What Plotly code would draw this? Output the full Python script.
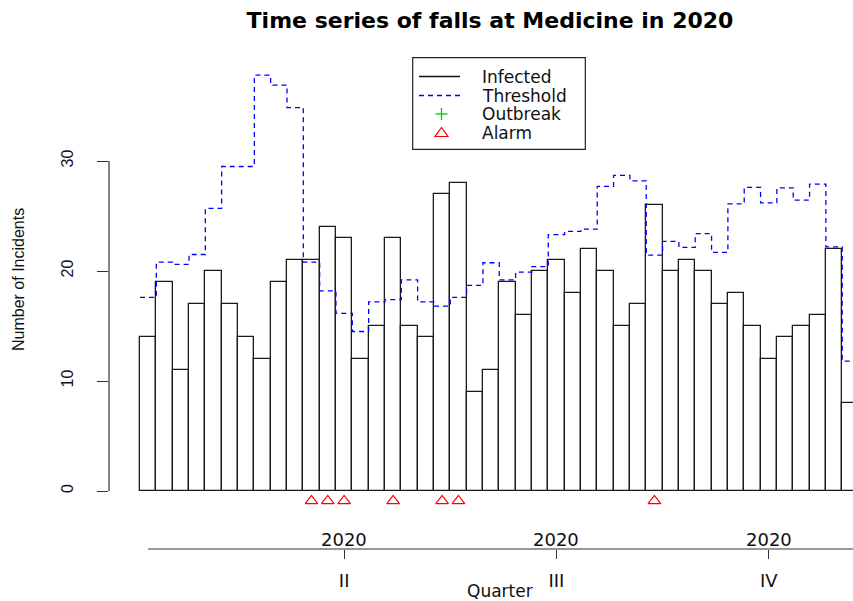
import plotly.graph_objects as go

# ---------------- data ----------------
weeks = list(range(1, 45))
infected = [14, 19, 11, 17, 20, 17, 14, 12, 19, 21,
            21, 24, 23, 12, 15, 23, 15, 14, 27, 28,
            9, 11, 19, 16, 20, 21, 18, 22, 20, 15,
            17, 26, 20, 21, 20, 17, 18, 15, 12, 14,
            15, 16, 22, 8]
threshold = [17.6, 20.8, 20.6, 21.5, 25.7, 29.5, 29.5, 37.8, 36.9, 34.85,
             20.8, 18.2, 16.15, 14.5, 17.2, 17.4, 19.2, 17.2, 16.8, 17.6,
             18.7, 20.75, 19.2, 19.9, 20.4, 23.3, 23.6, 23.8, 27.7, 28.7,
             28.2, 21.45, 22.7, 22.15, 23.4, 21.7, 26.1, 27.6, 26.2, 27.55,
             26.45, 27.9, 22.2, 11.8]
alarm_weeks = [11, 12, 13, 16, 19, 20, 32]
quarter_pos = [13, 26, 39]
quarter_labels = ["II", "III", "IV"]
year_labels = ["2020", "2020", "2020"]
y_ticks = [0, 10, 20, 30]
legend_labels = ["Infected", "Threshold", "Outbreak", "Alarm"]
title_text = "Time series of falls at Medicine in 2020"
YEAR_WEEKS = 52
ALARM_Y = -0.9

# ---------------- geometry ----------------
W, H = 853, 601
L, R, T, B = 109, 0, 60, 52
PW, PH = W - L - R, H - T - B
X_LEFT, X_RIGHT = -1.3986, 44.161
Y_BOT, Y_TOP = -5.273, 39.182


def px(xp):
    return (xp - L) / PW


def py(yp):
    return (H - B - yp) / PH


step_x = [w - 0.5 for w in weeks] + [weeks[-1] + 0.5]
step_y = threshold + [threshold[-1]]

fig = go.Figure()
fig.add_trace(go.Bar(
    x=weeks, y=infected, width=1, name="Infected",
    marker=dict(color="rgba(0,0,0,0)", line=dict(color="#1a1a1a", width=1.3)),
    showlegend=False))
fig.add_trace(go.Scatter(
    x=step_x, y=step_y, mode="lines", name="Threshold",
    line=dict(color="#0000ff", width=1.3, dash="5px,4px", shape="hv"),
    showlegend=False))
fig.add_trace(go.Scatter(
    x=alarm_weeks, y=[ALARM_Y] * len(alarm_weeks), mode="markers", name="Alarm",
    marker=dict(symbol="triangle-up-open", color="red", size=11, line=dict(width=1.2, color="red")),
    cliponaxis=False, showlegend=False))

shapes = []
# y axis line (R style, spanning the ticks only)
shapes.append(dict(type="line", xref="paper", yref="y", x0=0, x1=0, y0=y_ticks[0], y1=y_ticks[-1],
                   line=dict(color="#333", width=1.2)))
# bottom time axis line
shapes.append(dict(type="line", xref="x", yref="paper", x0=weeks[0], x1=YEAR_WEEKS, y0=0, y1=0,
                   line=dict(color="#333", width=1.2)))
# legend box
shapes.append(dict(type="rect", xref="paper", yref="paper", x0=px(412.7), x1=px(585.3),
                   y0=py(57.7), y1=py(149.3), line=dict(color="#222", width=1.2),
                   fillcolor="white", layer="above"))
rows = [76.5, 95.5, 114, 132.5]
shapes.append(dict(type="line", xref="paper", yref="paper", x0=px(419), x1=px(460),
                   y0=py(rows[0]), y1=py(rows[0]), line=dict(color="#111", width=1.3), layer="above"))
shapes.append(dict(type="line", xref="paper", yref="paper", x0=px(419), x1=px(460),
                   y0=py(rows[1]), y1=py(rows[1]), line=dict(color="#0000ff", width=1.3, dash="5px,4px"),
                   layer="above"))
# green plus
shapes.append(dict(type="line", xref="paper", yref="paper", xsizemode="pixel", ysizemode="pixel",
                   xanchor=px(441.5), yanchor=py(rows[2]), x0=-6, x1=6, y0=0, y1=0,
                   line=dict(color="#00cc00", width=1.3), layer="above"))
shapes.append(dict(type="line", xref="paper", yref="paper", xsizemode="pixel", ysizemode="pixel",
                   xanchor=px(441.5), yanchor=py(rows[2]), x0=0, x1=0, y0=-6, y1=6,
                   line=dict(color="#00cc00", width=1.3), layer="above"))
# red triangle
shapes.append(dict(type="path", xref="paper", yref="paper", xsizemode="pixel", ysizemode="pixel",
                   xanchor=px(441.5), yanchor=py(rows[3]), path="M -6.5,-4 L 6.5,-4 L 0,5 Z",
                   line=dict(color="red", width=1.2), fillcolor="rgba(0,0,0,0)", layer="above"))

annotations = []
for lab, r in zip(legend_labels, rows):
    annotations.append(dict(text=lab, xref="paper", yref="paper", x=px(480), y=py(r),
                            xanchor="left", yanchor="middle", showarrow=False,
                            font=dict(family="DejaVu Sans", size=17, color="#111")))
for qp, yl in zip(quarter_pos, year_labels):
    annotations.append(dict(text=yl, xref="x", yref="paper", x=qp, y=py(539),
                            xanchor="center", yanchor="middle", showarrow=False,
                            font=dict(family="DejaVu Sans", size=18, color="#111")))
annotations.append(dict(text="Quarter", xref="paper", yref="paper", x=px(500), y=py(591),
                        xanchor="center", yanchor="middle", showarrow=False,
                        font=dict(family="DejaVu Sans", size=17, color="#111")))
annotations.append(dict(text="Number of Incidents", xref="paper", yref="paper", x=px(18), y=py(280),
                        xanchor="center", yanchor="middle", textangle=-90, showarrow=False,
                        font=dict(family="Liberation Sans", size=16, color="#111")))

fig.update_layout(
    width=W, height=H,
    margin=dict(l=L, r=R, t=T, b=B, pad=0),
    plot_bgcolor="white", paper_bgcolor="white",
    bargap=0, showlegend=False,
    title=dict(text=title_text, x=490 / W, xanchor="center", xref="container",
               y=1 - 20 / H, yanchor="middle", yref="container",
               font=dict(family="DejaVu Sans", size=22, color="#000", weight="bold")),
    xaxis=dict(range=[X_LEFT, X_RIGHT], tickmode="array", tickvals=quarter_pos, ticktext=quarter_labels,
               ticks="outside", ticklen=9, tickwidth=1.2, tickcolor="#333",
               showline=False, showgrid=False, zeroline=False, ticklabelstandoff=6,
               tickfont=dict(family="DejaVu Sans", size=18, color="#111")),
    yaxis=dict(range=[Y_BOT, Y_TOP], tickmode="array", tickvals=y_ticks,
               ticks="outside", ticklen=11, tickwidth=1.2, tickcolor="#333", tickangle=-90,
               showline=False, showgrid=False, zeroline=False, ticklabelstandoff=18,
               tickfont=dict(family="Liberation Sans", size=16, color="#111")),
    shapes=shapes, annotations=annotations,
)

fig.write_html("out.html", config={"displayModeBar": False},
               post_script="document.body.style.margin='0';document.body.style.overflow='hidden';")
